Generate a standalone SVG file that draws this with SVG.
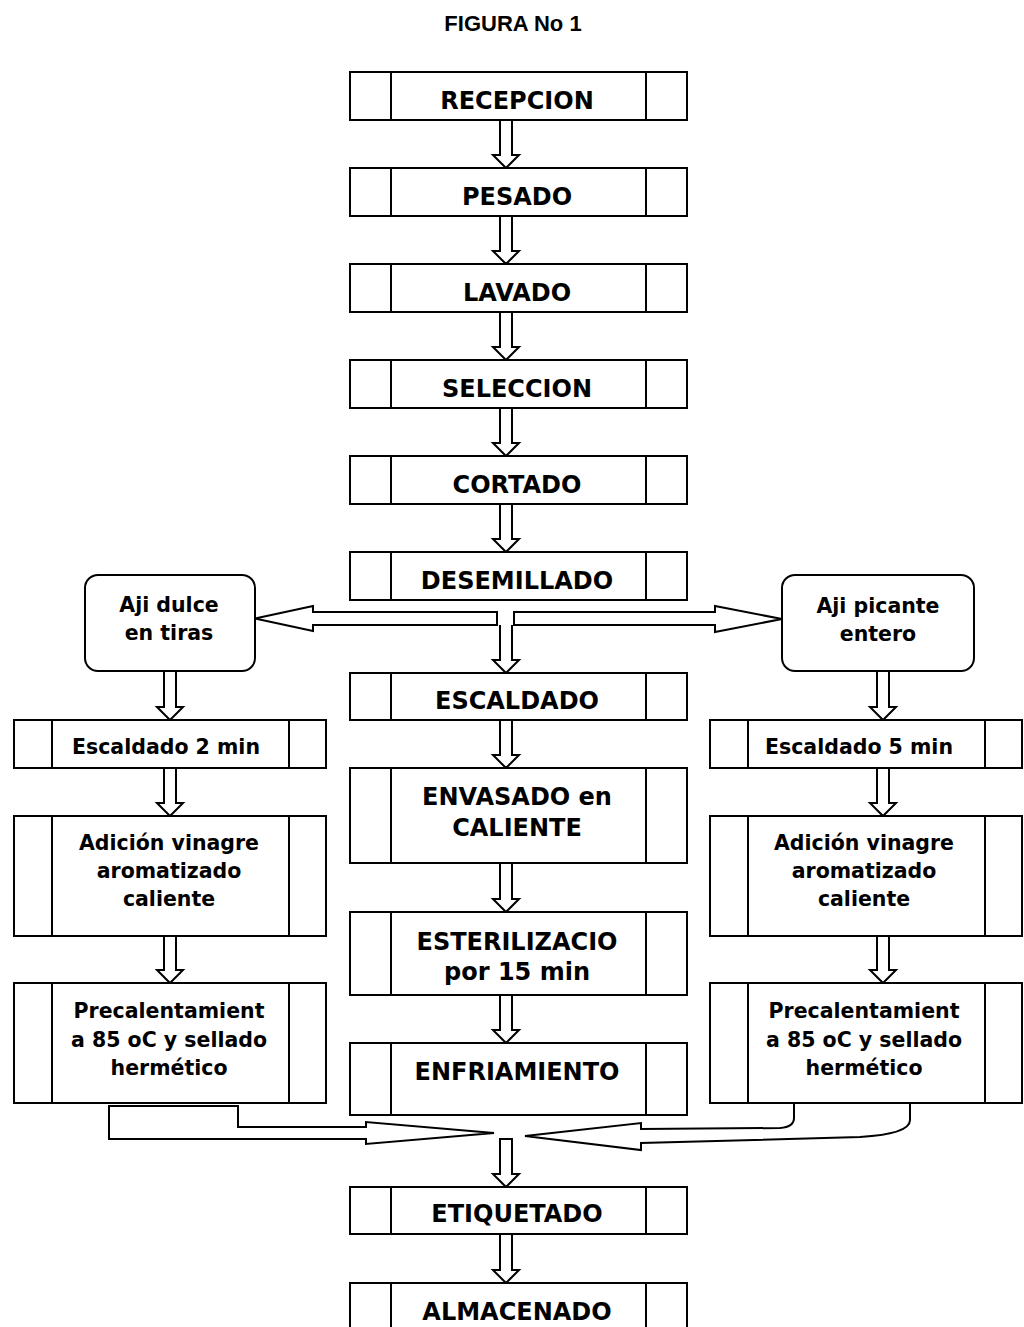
<svg xmlns="http://www.w3.org/2000/svg" width="1024" height="1327" viewBox="0 0 1024 1327">
  <style>
    .box { fill: #fff; stroke: #000; stroke-width: 2; }
    .div { stroke: #000; stroke-width: 2; }
    .arw { fill: #fff; stroke: #000; stroke-width: 2; stroke-linejoin: miter; }
    .t { font-family: "DejaVu Sans", Verdana, sans-serif; font-weight: bold; font-size: 24px; text-anchor: middle; fill: #000; }
    .s { font-family: "DejaVu Sans", Verdana, sans-serif; font-weight: bold; font-size: 20.5px; text-anchor: middle; fill: #000; }
    .title { font-family: "Liberation Sans", Arial, sans-serif; font-weight: bold; font-size: 22px; text-anchor: middle; fill: #000; }
  </style>
  <rect width="1024" height="1327" fill="#fff"/>

  <text class="title" x="513" y="31">FIGURA No 1</text>

  <!-- connectors -->
  <g id="connectors">
    <!-- main column -->
    <path class="arw" d="M500,120 V155 H493 L506,168 L519,155 H512 V120 Z"/>
    <path class="arw" d="M500,216 V251 H493 L506,264 L519,251 H512 V216 Z"/>
    <path class="arw" d="M500,312 V347 H493 L506,360 L519,347 H512 V312 Z"/>
    <path class="arw" d="M500,408 V443 H493 L506,456 L519,443 H512 V408 Z"/>
    <path class="arw" d="M500,504 V539 H493 L506,552 L519,539 H512 V504 Z"/>
    <!-- split after DESEMILLADO -->
    <path class="arw" d="M497,612 H313 V606 L255,618.5 L313,631 V625 H497 Z"/>
    <path class="arw" d="M514,612 H715 V606 L782,619 L715,632 V625 H514 Z"/>
    <path class="arw" d="M500,625 V660 H493 L506,673 L519,660 H512 V625"/>
    <path class="arw" d="M500,720 V755 H493 L506,768 L519,755 H512 V720 Z"/>
    <path class="arw" d="M500,863 V899 H493 L506,912 L519,899 H512 V863 Z"/>
    <path class="arw" d="M500,995 V1030 H493 L506,1043 L519,1030 H512 V995 Z"/>
    <!-- left column -->
    <path class="arw" d="M164,671 V707 H157 L170,720 L183,707 H176 V671 Z"/>
    <path class="arw" d="M164,768 V803 H157 L170,816 L183,803 H176 V768 Z"/>
    <path class="arw" d="M164,936 V970 H157 L170,983 L183,970 H176 V936 Z"/>
    <!-- right column -->
    <path class="arw" d="M877,671 V707 H870 L883,720 L896,707 H889 V671 Z"/>
    <path class="arw" d="M877,768 V803 H870 L883,816 L896,803 H889 V768 Z"/>
    <path class="arw" d="M877,936 V970 H870 L883,983 L896,970 H889 V936 Z"/>
    <!-- merge into ETIQUETADO -->
    <path class="arw" d="M109,1106 H238 V1127 H366 V1122 L494,1133 L366,1144 V1139 H109 Z"/>
    <path class="arw" d="M794,1102 H910 V1120 Q910,1134 860,1137 L641,1143 V1150 L525,1136 L641,1123 V1129 L780,1128 Q794,1127 794,1118 Z"/>
    <path class="arw" d="M500,1139 V1174 H493 L506,1187 L519,1174 H512 V1139 Z"/>
    <path class="arw" d="M500,1234 V1270 H493 L506,1283 L519,1270 H512 V1234 Z"/>
  </g>

  <!-- main column -->
  <g id="recepcion">
    <rect class="box" x="350" y="72" width="337" height="48"/>
    <line class="div" x1="391" y1="72" x2="391" y2="120"/><line class="div" x1="646" y1="72" x2="646" y2="120"/>
    <text class="t" x="517" y="109">RECEPCION</text>
  </g>
  <g id="pesado">
    <rect class="box" x="350" y="168" width="337" height="48"/>
    <line class="div" x1="391" y1="168" x2="391" y2="216"/><line class="div" x1="646" y1="168" x2="646" y2="216"/>
    <text class="t" x="517" y="205">PESADO</text>
  </g>
  <g id="lavado">
    <rect class="box" x="350" y="264" width="337" height="48"/>
    <line class="div" x1="391" y1="264" x2="391" y2="312"/><line class="div" x1="646" y1="264" x2="646" y2="312"/>
    <text class="t" x="517" y="301">LAVADO</text>
  </g>
  <g id="seleccion">
    <rect class="box" x="350" y="360" width="337" height="48"/>
    <line class="div" x1="391" y1="360" x2="391" y2="408"/><line class="div" x1="646" y1="360" x2="646" y2="408"/>
    <text class="t" x="517" y="397">SELECCION</text>
  </g>
  <g id="cortado">
    <rect class="box" x="350" y="456" width="337" height="48"/>
    <line class="div" x1="391" y1="456" x2="391" y2="504"/><line class="div" x1="646" y1="456" x2="646" y2="504"/>
    <text class="t" x="517" y="493">CORTADO</text>
  </g>
  <g id="desemillado">
    <rect class="box" x="350" y="552" width="337" height="48"/>
    <line class="div" x1="391" y1="552" x2="391" y2="600"/><line class="div" x1="646" y1="552" x2="646" y2="600"/>
    <text class="t" x="517" y="589">DESEMILLADO</text>
  </g>
  <g id="escaldado">
    <rect class="box" x="350" y="673" width="337" height="47"/>
    <line class="div" x1="391" y1="673" x2="391" y2="720"/><line class="div" x1="646" y1="673" x2="646" y2="720"/>
    <text class="t" x="517" y="709">ESCALDADO</text>
  </g>
  <g id="envasado">
    <rect class="box" x="350" y="768" width="337" height="95"/>
    <line class="div" x1="391" y1="768" x2="391" y2="863"/><line class="div" x1="646" y1="768" x2="646" y2="863"/>
    <text class="t" x="517" y="805">ENVASADO en</text>
    <text class="t" x="517" y="836">CALIENTE</text>
  </g>
  <g id="esterilizacion">
    <rect class="box" x="350" y="912" width="337" height="83"/>
    <line class="div" x1="391" y1="912" x2="391" y2="995"/><line class="div" x1="646" y1="912" x2="646" y2="995"/>
    <text class="t" x="517" y="950">ESTERILIZACIO</text>
    <text class="t" x="517" y="980">por 15 min</text>
  </g>
  <g id="enfriamiento">
    <rect class="box" x="350" y="1043" width="337" height="72"/>
    <line class="div" x1="391" y1="1043" x2="391" y2="1115"/><line class="div" x1="646" y1="1043" x2="646" y2="1115"/>
    <text class="t" x="517" y="1080">ENFRIAMIENTO</text>
  </g>
  <g id="etiquetado">
    <rect class="box" x="350" y="1187" width="337" height="47"/>
    <line class="div" x1="391" y1="1187" x2="391" y2="1234"/><line class="div" x1="646" y1="1187" x2="646" y2="1234"/>
    <text class="t" x="517" y="1222">ETIQUETADO</text>
  </g>
  <g id="almacenado">
    <rect class="box" x="350" y="1283" width="337" height="50"/>
    <line class="div" x1="391" y1="1283" x2="391" y2="1333"/><line class="div" x1="646" y1="1283" x2="646" y2="1333"/>
    <text class="t" x="517" y="1320">ALMACENADO</text>
  </g>

  <!-- sweet pepper branch -->
  <g id="aji-dulce">
    <rect class="box" x="85" y="575" width="170" height="96" rx="13"/>
    <text class="s" x="169" y="612">Aji dulce</text>
    <text class="s" x="169" y="640">en tiras</text>
  </g>
  <g id="escaldado-2">
    <rect class="box" x="14" y="720" width="312" height="48"/>
    <line class="div" x1="52" y1="720" x2="52" y2="768"/><line class="div" x1="289" y1="720" x2="289" y2="768"/>
    <text class="s" x="166" y="754">Escaldado 2 min</text>
  </g>
  <g id="vinagre-izq">
    <rect class="box" x="14" y="816" width="312" height="120"/>
    <line class="div" x1="52" y1="816" x2="52" y2="936"/><line class="div" x1="289" y1="816" x2="289" y2="936"/>
    <text class="s" x="169" y="850">Adición vinagre</text>
    <text class="s" x="169" y="878">aromatizado</text>
    <text class="s" x="169" y="906">caliente</text>
  </g>
  <g id="precalentamiento-izq">
    <rect class="box" x="14" y="983" width="312" height="120"/>
    <line class="div" x1="52" y1="983" x2="52" y2="1103"/><line class="div" x1="289" y1="983" x2="289" y2="1103"/>
    <text class="s" x="169" y="1018">Precalentamient</text>
    <text class="s" x="169" y="1047">a 85 oC y sellado</text>
    <text class="s" x="169" y="1075">hermético</text>
  </g>

  <!-- hot pepper branch -->
  <g id="aji-picante">
    <rect class="box" x="782" y="575" width="192" height="96" rx="13"/>
    <text class="s" x="878" y="613">Aji picante</text>
    <text class="s" x="878" y="641">entero</text>
  </g>
  <g id="escaldado-5">
    <rect class="box" x="710" y="720" width="312" height="48"/>
    <line class="div" x1="748" y1="720" x2="748" y2="768"/><line class="div" x1="985" y1="720" x2="985" y2="768"/>
    <text class="s" x="859" y="754">Escaldado 5 min</text>
  </g>
  <g id="vinagre-der">
    <rect class="box" x="710" y="816" width="312" height="120"/>
    <line class="div" x1="748" y1="816" x2="748" y2="936"/><line class="div" x1="985" y1="816" x2="985" y2="936"/>
    <text class="s" x="864" y="850">Adición vinagre</text>
    <text class="s" x="864" y="878">aromatizado</text>
    <text class="s" x="864" y="906">caliente</text>
  </g>
  <g id="precalentamiento-der">
    <rect class="box" x="710" y="983" width="312" height="120"/>
    <line class="div" x1="748" y1="983" x2="748" y2="1103"/><line class="div" x1="985" y1="983" x2="985" y2="1103"/>
    <text class="s" x="864" y="1018">Precalentamient</text>
    <text class="s" x="864" y="1047">a 85 oC y sellado</text>
    <text class="s" x="864" y="1075">hermético</text>
  </g>
</svg>
